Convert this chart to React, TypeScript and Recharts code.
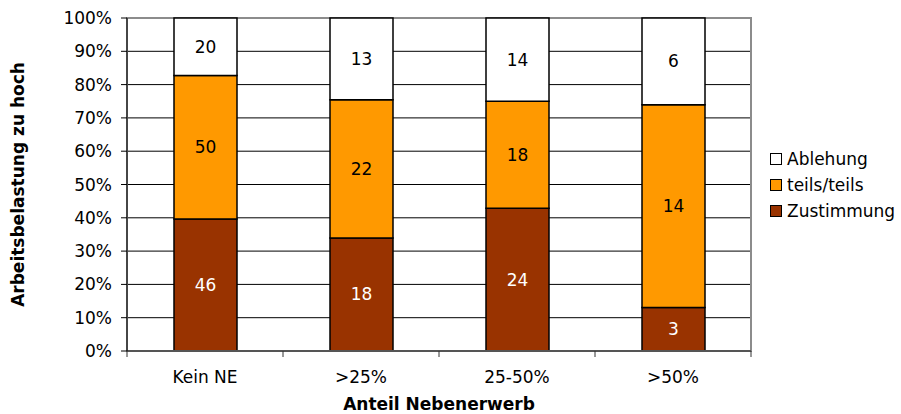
import React from 'react';
import {
  BarChart,
  Bar,
  XAxis,
  YAxis,
  CartesianGrid,
  ReferenceArea,
  Label,
} from 'recharts';

const categories = ['Kein NE', '>25%', '25-50%', '>50%'];
const zustimmung = [46, 18, 24, 3];
const teilsTeils = [50, 22, 18, 14];
const ablehnung = [20, 13, 14, 6];
const yTicks = [0, 0.1, 0.2, 0.3, 0.4, 0.5, 0.6, 0.7, 0.8, 0.9, 1];

const FONT = '"DejaVu Sans", Verdana, sans-serif';
const FS = 17;
const TICK_SIZE = 6;
const TICK_MARGIN = 14;

const data = categories.map((name, i) => ({
  name,
  zu: zustimmung[i],
  teils: teilsTeils[i],
  ab: ablehnung[i],
}));

const series = [
  { key: 'ab', name: 'Ablehung', color: '#FFFFFF' },
  { key: 'teils', name: 'teils/teils', color: '#FF9900' },
  { key: 'zu', name: 'Zustimmung', color: '#993300' },
];

const makeLabel = (vals: number[], color: string) => (props: any) => {
  const { x, y, width, height, index } = props;
  return (
    <text
      x={Number(x) + Number(width) / 2}
      y={Number(y) + Number(height) / 2}
      fill={color}
      textAnchor="middle"
      dominantBaseline="central"
      fontSize={FS}
      fontFamily={FONT}
    >
      {vals[index]}
    </text>
  );
};

// category tick with tick marks on the band boundaries
const CatTick = (props: any) => {
  const { x, y, payload, index } = props;
  const half = payload.offset || 0;
  const y0 = y - TICK_SIZE - TICK_MARGIN;
  return (
    <g>
      <line x1={x - half} x2={x - half} y1={y0} y2={y0 + TICK_SIZE} stroke="#333" />
      {index === categories.length - 1 && (
        <line x1={x + half} x2={x + half} y1={y0} y2={y0 + TICK_SIZE} stroke="#333" />
      )}
      <text x={x} y={y} dy="0.71em" textAnchor="middle" fill="#000" fontSize={FS} fontFamily={FONT}>
        {payload.value}
      </text>
    </g>
  );
};

const LegendBox = () => (
  <div
    style={{
      position: 'absolute',
      left: 770,
      top: 146,
      fontFamily: FONT,
      fontSize: FS,
      color: '#000',
      whiteSpace: 'nowrap',
    }}
  >
    {series.map((s) => (
      <div key={s.key} style={{ display: 'flex', alignItems: 'center', height: 26 }}>
        <span
          style={{
            display: 'inline-block',
            width: 10,
            height: 10,
            background: s.color,
            border: '1px solid #000',
            marginRight: 5,
          }}
        />
        <span>{s.name}</span>
      </div>
    ))}
  </div>
);

export default function App() {
  return (
    <div style={{ position: 'absolute', left: 0, top: 0, width: 901, height: 414, background: '#fff' }}>
      <BarChart
        width={901}
        height={414}
        data={data}
        stackOffset="expand"
        margin={{ top: 18, right: 150, bottom: 0, left: 0 }}
        barSize={63}
      >
        <CartesianGrid xAxisId="cat" yAxisId="y" vertical={false} stroke="#000" strokeWidth={1} />
        <ReferenceArea yAxisId="y" xAxisId="cat" y1={0} y2={1} stroke="#8c8c8c" strokeWidth={2} fill="none" />
        <XAxis
          xAxisId="cat"
          dataKey="name"
          height={63}
          axisLine={{ stroke: '#555', strokeWidth: 2 }}
          tickLine={false}
          tickSize={TICK_SIZE}
          tickMargin={TICK_MARGIN}
          tick={<CatTick />}
        >
          <Label
            value="Anteil Nebenerwerb"
            position="insideBottom"
            offset={4}
            style={{ fontFamily: FONT, fontSize: FS, fontWeight: 'bold', fill: '#000' }}
          />
        </XAxis>
        <YAxis
          yAxisId="y"
          width={127}
          domain={[0, 1]}
          ticks={yTicks}
          tickFormatter={(v: number) => `${Math.round(v * 100)}%`}
          tickSize={TICK_SIZE}
          tickMargin={9}
          axisLine={{ stroke: '#000' }}
          tickLine={{ stroke: '#000' }}
          tick={{ fill: '#000', fontSize: FS, fontFamily: FONT }}
        >
          <Label
            value="Arbeitsbelastung zu hoch"
            angle={-90}
            position="insideLeft"
            offset={18}
            style={{ fontFamily: FONT, fontSize: FS, fontWeight: 'bold', fill: '#000', textAnchor: 'middle' }}
          />
        </YAxis>
        <Bar
          dataKey="zu"
          name="Zustimmung"
          stackId="s"
          xAxisId="cat"
          yAxisId="y"
          fill="#993300"
          stroke="#000"
          strokeWidth={1.5}
          isAnimationActive={false}
          label={makeLabel(zustimmung, '#fff')}
        />
        <Bar
          dataKey="teils"
          name="teils/teils"
          stackId="s"
          xAxisId="cat"
          yAxisId="y"
          fill="#FF9900"
          stroke="#000"
          strokeWidth={1.5}
          isAnimationActive={false}
          label={makeLabel(teilsTeils, '#000')}
        />
        <Bar
          dataKey="ab"
          name="Ablehung"
          stackId="s"
          xAxisId="cat"
          yAxisId="y"
          fill="#FFFFFF"
          stroke="#000"
          strokeWidth={1.5}
          isAnimationActive={false}
          label={makeLabel(ablehnung, '#000')}
        />
      </BarChart>
      <LegendBox />
    </div>
  );
}
